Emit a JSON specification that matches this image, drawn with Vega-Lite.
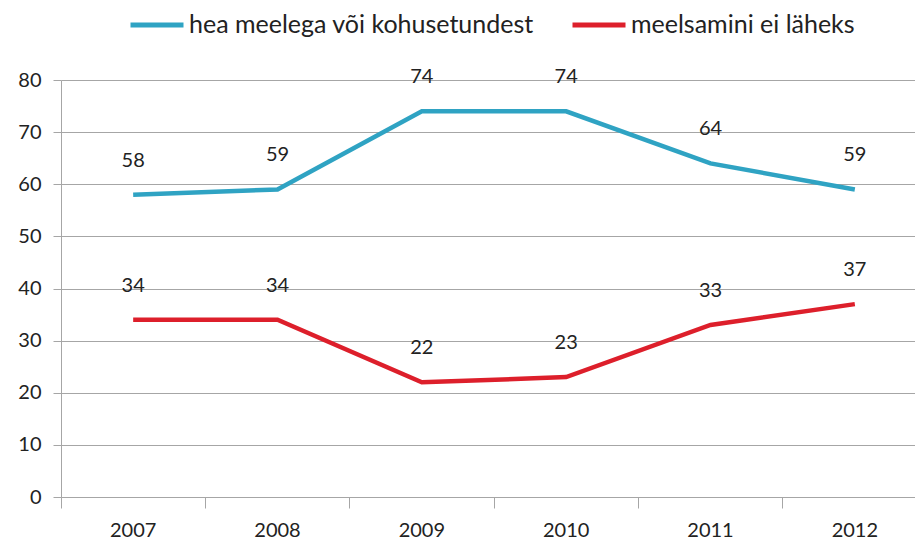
{
  "$schema": "https://vega.github.io/schema/vega-lite/v6.json",
  "width": 854,
  "height": 417,
  "autosize": {"type": "none"},
  "padding": {"left": 61, "top": 80, "right": 0, "bottom": 45},
  "background": "white",
  "config": {"font": "Lato", "view": {"stroke": null}},
  "data": {
    "values": [
      {"year": "2007", "series": "hea meelega või kohusetundest", "value": 58},
      {"year": "2008", "series": "hea meelega või kohusetundest", "value": 59},
      {"year": "2009", "series": "hea meelega või kohusetundest", "value": 74},
      {"year": "2010", "series": "hea meelega või kohusetundest", "value": 74},
      {"year": "2011", "series": "hea meelega või kohusetundest", "value": 64},
      {"year": "2012", "series": "hea meelega või kohusetundest", "value": 59},
      {"year": "2007", "series": "meelsamini ei läheks", "value": 34},
      {"year": "2008", "series": "meelsamini ei läheks", "value": 34},
      {"year": "2009", "series": "meelsamini ei läheks", "value": 22},
      {"year": "2010", "series": "meelsamini ei läheks", "value": 23},
      {"year": "2011", "series": "meelsamini ei läheks", "value": 33},
      {"year": "2012", "series": "meelsamini ei läheks", "value": 37}
    ]
  },
  "encoding": {
    "x": {
      "field": "year",
      "type": "ordinal",
      "scale": {"type": "band", "range": [0, 866], "paddingInner": 0, "paddingOuter": 0},
      "axis": {
        "title": null,
        "labelAngle": 0,
        "bandPosition": 0,
        "tickSize": 11,
        "tickColor": "#a6a6a6",
        "domainColor": "#a6a6a6",
        "labelPadding": 12,
        "labelFontSize": 20,
        "labelColor": "#222222",
        "grid": false
      }
    },
    "y": {
      "field": "value",
      "type": "quantitative",
      "scale": {"domain": [0, 80]},
      "axis": {
        "title": null,
        "values": [0, 10, 20, 30, 40, 50, 60, 70, 80],
        "grid": true,
        "gridColor": "#a6a6a6",
        "domainColor": "#a6a6a6",
        "tickColor": "#a6a6a6",
        "tickSize": 8,
        "labelPadding": 12,
        "labelFontSize": 20,
        "labelColor": "#222222"
      }
    },
    "color": {
      "field": "series",
      "type": "nominal",
      "scale": {
        "domain": ["hea meelega või kohusetundest", "meelsamini ei läheks"],
        "range": ["#2fa3c3", "#dd1f2b"]
      },
      "legend": {
        "title": null,
        "orient": "none",
        "legendX": 67,
        "legendY": -84,
        "direction": "horizontal",
        "symbolType": "stroke",
        "symbolStrokeWidth": 5,
        "symbolSize": 2809,
        "labelFontSize": 25,
        "labelColor": "#222222",
        "labelOffset": 3,
        "columnPadding": 28,
        "labelLimit": 0
      }
    }
  },
  "layer": [
    {"mark": {"type": "line", "strokeWidth": 4.5}},
    {
      "mark": {"type": "text", "dy": -34, "fontSize": 20},
      "encoding": {"text": {"field": "value"}, "color": {"value": "#222222"}}
    }
  ]
}
